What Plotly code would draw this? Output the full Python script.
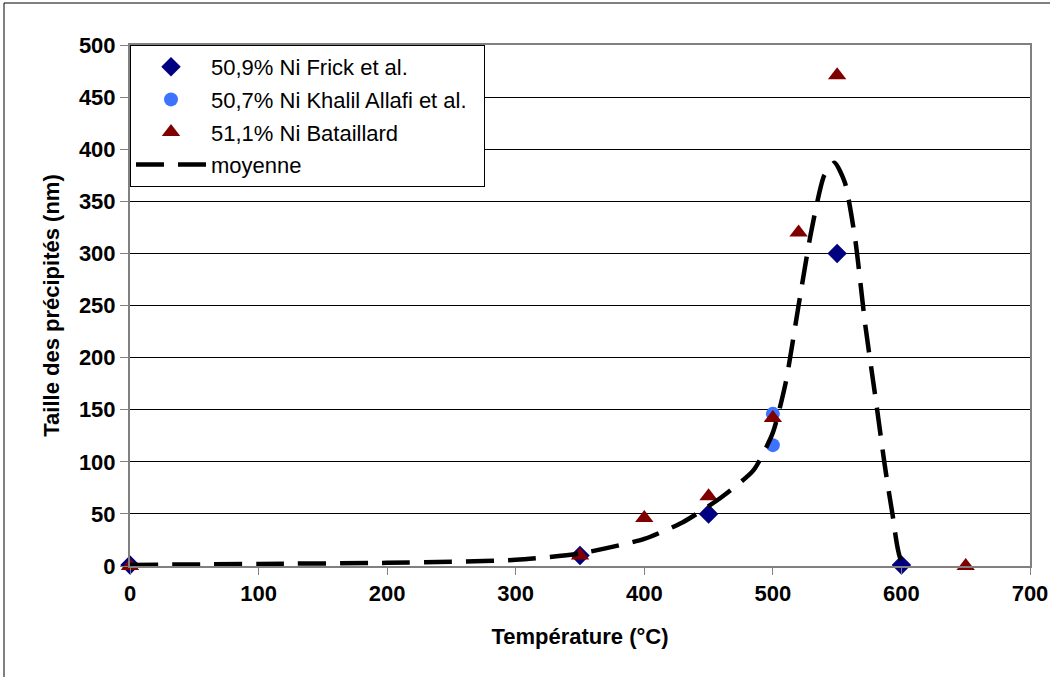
import plotly.graph_objects as go

# --- Data ---
frick_x = [0, 350, 450, 550, 600]
frick_y = [1, 10, 50, 300, 1]

khalil_x = [500, 500]
khalil_y = [146, 116]

batail_x = [0, 350, 400, 450, 500, 520, 550, 650]
batail_y = [0, 10, 46, 67, 142, 320, 471, 0]

moy_x = [0, 100, 200, 250, 300, 350, 400, 430, 460, 485, 500, 510, 520, 530,
         540, 548, 556, 564, 572, 580, 587, 593, 600, 615, 630, 640]
moy_y = [1, 2, 3, 4, 6, 12, 26, 42, 66, 92, 128, 176, 250, 322,
         375, 387, 368, 314, 230, 160, 97, 50, 5, -6, -8, -8]

x_ticks = [0, 100, 200, 300, 400, 500, 600, 700]
y_ticks = [0, 50, 100, 150, 200, 250, 300, 350, 400, 450, 500]

FONT = "Liberation Sans, Arial, sans-serif"

fig = go.Figure()

fig.add_trace(go.Scatter(
    x=frick_x, y=frick_y, mode="markers", name="50,9% Ni Frick et al.",
    legendgroup="a",
    marker=dict(symbol="diamond", size=15, color="#000080"),
    cliponaxis=False))
fig.add_trace(go.Scatter(
    x=khalil_x, y=khalil_y, mode="markers",
    name="50,7% Ni Khalil Allafi et al.\u00a0\u00a0",
    legendgroup="b",
    marker=dict(symbol="circle", size=14, color="#3d73ff"),
    cliponaxis=False))
fig.add_trace(go.Scatter(
    x=batail_x, y=batail_y, mode="markers", name="51,1% Ni Bataillard",
    legendgroup="c",
    marker=dict(symbol="triangle-up", size=16, color="#800000"),
    cliponaxis=False))
fig.add_trace(go.Scatter(
    x=moy_x, y=moy_y, mode="lines", name="moyenne",
    legendgroup="d",
    line=dict(color="black", width=4.5, dash="28px,14px", shape="spline", smoothing=0.6)))

fig.update_layout(
    width=1050, height=677,
    margin=dict(l=130, r=20, t=45, b=111, autoexpand=False),
    paper_bgcolor="white", plot_bgcolor="white",
    font=dict(family=FONT, color="black"),
    showlegend=True,
    legend=dict(
        x=0, y=1, xanchor="left", yanchor="top",
        bgcolor="white", bordercolor="black", borderwidth=1,
        font=dict(size=22, family=FONT, color="black"),
        tracegroupgap=1, itemwidth=70,
    ),
    shapes=[
        dict(type="line", xref="paper", yref="paper", x0=-0.14, x1=1.03,
             y0=1.0806, y1=1.0806, line=dict(color="black", width=1)),
        dict(type="line", xref="paper", yref="paper", x0=-0.14, x1=-0.14,
             y0=-0.22, y1=1.0806, line=dict(color="black", width=1)),
    ],
)

fig.update_xaxes(
    range=[0, 700], tickvals=x_ticks, ticktext=[str(v) for v in x_ticks],
    automargin=False,
    showgrid=False, zeroline=False,
    showline=True, linecolor="#808080", linewidth=2, mirror=True,
    ticks="outside", ticklen=7, tickcolor="#808080", tickwidth=1,
    tickfont=dict(size=22, family=FONT, color="black", weight="bold"),
    title=dict(text="<b>Température (°C)</b>", font=dict(size=22, family=FONT), standoff=23),
)
fig.update_yaxes(
    range=[0, 500], tickvals=y_ticks, ticktext=[str(v) for v in y_ticks],
    automargin=False,
    showgrid=True, gridcolor="black", gridwidth=1, zeroline=False,
    showline=True, linecolor="#808080", linewidth=2, mirror=True,
    ticks="outside", ticklen=8, tickcolor="#808080", tickwidth=1,
    tickfont=dict(size=22, family=FONT, color="black", weight="bold"),
    title=dict(text="<b>Taille des précipités (nm)</b>", font=dict(size=22, family=FONT), standoff=13),
)

fig.write_html("out.html",
               config={"displayModeBar": False},
               post_script="document.body.style.margin='0';document.body.style.overflow='hidden';")
